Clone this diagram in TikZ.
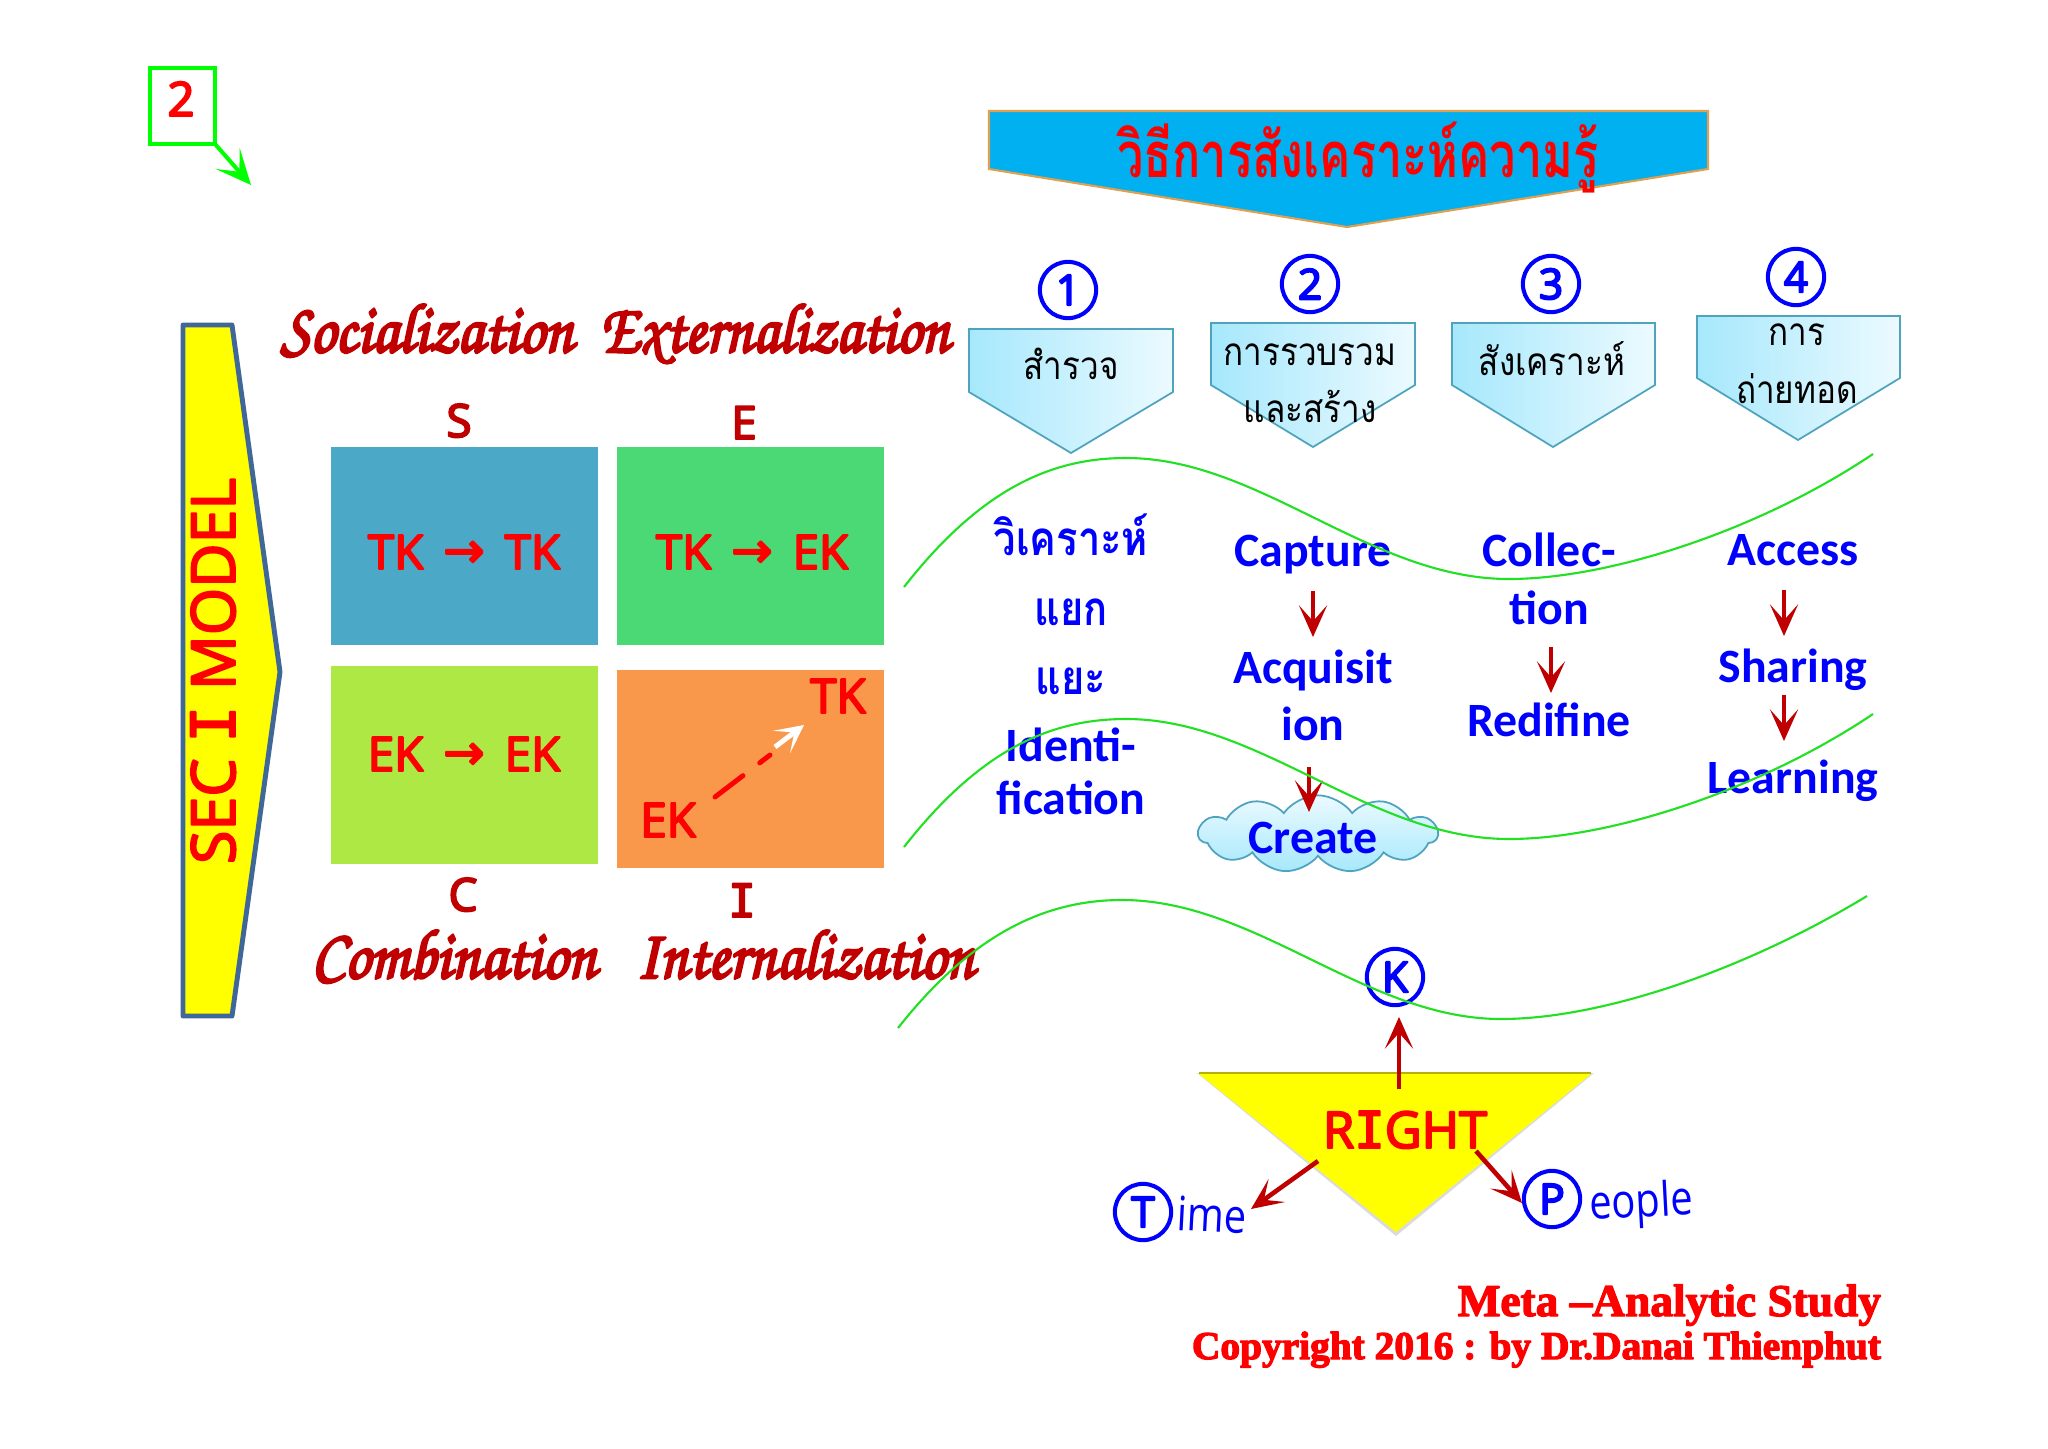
\documentclass[tikz,border=0pt]{standalone}
\usepackage[T1,TU]{fontenc}
\usepackage{fontspec}
\usetikzlibrary{arrows.meta,shapes.symbols}
\setmainfont{Carlito}
\newfontfamily\thaifont[Script=Thai]{Loma}
\newfontfamily\thincomic{Open Sans}
\newfontfamily\arrfont{DejaVu Sans}
\newfontfamily\monoI{DejaVu Sans Mono}
\newfontfamily\serifbold{Liberation Serif}
\newcommand{\comicfont}{\thincomic\special{pdf:code 1 J 1 j 2 Tr 0.55 w}}
\newcommand{\cooperfont}{\serifbold\bfseries\special{pdf:code 1 j 2 Tr 0.35 w}}
\newcommand{\brushfont}{\usefont{T1}{pzc}{mb}{it}\special{pdf:code 1 j 2 Tr 0.75 w}}
\newcommand{\tkarrow}{\hspace{5.7pt}\raisebox{0.5pt}{\arrfont\fontsize{14}{15}\selectfont →}\hspace{5.7pt}}
\newcommand{\capI}{{\monoI I}}
\newcommand{\brushtext}[2][0.9]{\scalebox{#1}[1]{#2}}
\definecolor{dred}{HTML}{C00000}
\definecolor{yel}{RGB}{255,255,0}
\definecolor{bluefill}{HTML}{00B0F0}
\definecolor{pentl}{HTML}{A6E8FC}
\definecolor{pentr}{HTML}{ECFAFF}
\definecolor{pentline}{HTML}{4FA3BD}
\definecolor{titleline}{HTML}{E0A050}
\definecolor{wavegreen}{HTML}{22E022}
\definecolor{secline}{HTML}{3F6797}
\definecolor{cellS}{HTML}{4BA8C6}
\definecolor{cellE}{HTML}{4AD975}
\definecolor{cellC}{HTML}{AEE845}
\definecolor{cellI}{HTML}{F9984A}
\tikzset{
  txt/.style={inner sep=0pt,outer sep=0pt,anchor=base},
  calib/.style={txt,text=blue,font=\fontsize{13.6}{14}\selectfont\bfseries},
  thaiblue/.style={txt,text=blue,font=\thaifont\fontsize{13.5}{15}\selectfont\bfseries},
  thaiblack/.style={txt,text=black,font=\thaifont\fontsize{11}{12}\selectfont},
  comic/.style={txt,text=red,font=\comicfont\fontsize{13.5}{15}\selectfont},
  letter/.style={txt,text=dred,font=\comicfont\fontsize{13}{14}\selectfont},
  brush/.style={txt,text=dred,font=\brushfont\fontsize{20}{21}\selectfont},
  cooper/.style={txt,text=red,font=\cooperfont\fontsize{11.2}{12}\selectfont},
  pent/.style={draw=pentline,line width=0.5pt,left color=pentl,right color=pentr},
  roundnode/.style={draw=blue,line width=1.15pt,circle,inner sep=0pt,minimum size=16pt,text=blue,font=\comicfont\fontsize{12}{13}\selectfont},
  wave/.style={draw=wavegreen,line width=0.6pt},
  darrow/.style={draw=dred,line width=1.3pt,-{Stealth[length=9pt,width=8pt,inset=4.5pt]}},
}
\begin{document}
\begin{tikzpicture}[x=0.01cm,y=-0.01cm]
\useasboundingbox (0,0) rectangle (2048,1448);
\fill[white] (0,0) rectangle (2048,1448);
% top-left marker
\node[draw=green,line width=1.15pt,inner sep=0pt,outer sep=0pt,minimum width=18.5pt,minimum height=21.6pt] (mark) at (182.5,106) {};
\node[comic] (marktxt) at (181,116) {2};
\coordinate (markend) at (251,185);
\draw[green,line width=1.15pt,-{Stealth[length=10pt,width=9pt,inset=5pt]}] (mark.south east) -- (markend);
% title arrow
\path[fill=bluefill,draw=titleline,line width=0.6pt] (989,111) -- (1708,111) -- (1708,169) -- (1347,227) -- (989,169) -- cycle;
\node[txt,text=red,font=\thaifont\fontsize{18}{20}\selectfont\bfseries] (title) at (1358,177) {\scalebox{0.74}[1]{วิธีการสังเคราะห์ความรู้}};
% SECI arrow
\path[fill=yel,draw=secline,line width=1.4pt,line join=round] (183,325) -- (232,325) -- (280,672) -- (232,1016) -- (183,1016) -- cycle;
\node[comic,rotate=90,font=\comicfont\fontsize{17.3}{18}\selectfont] (seci) at (235,671) {SEC \capI{} MODEL};
% cells
\fill[cellS] (331,447) rectangle (598,645);
\fill[cellE] (617,447) rectangle (884,645);
\fill[cellC] (331,666) rectangle (598,864);
\fill[cellI] (617,670) rectangle (884,868);
\node[comic] (tt) at (464,569) {TK\tkarrow TK};
\node[comic] (te) at (752,569) {TK\tkarrow EK};
\node[comic] (ee) at (464,771) {EK\tkarrow EK};
\node[comic] (ik2) at (838,713) {TK};
\node[comic] (ik1) at (668,837) {EK};
\coordinate (da) at (715,797);
\coordinate (db) at (770,755);
\coordinate (dc) at (775,747);
\coordinate (dd) at (804,725);
\draw[red,line width=1.4pt,dash pattern=on 10pt off 6pt,line cap=round] (da) -- (db);
\draw[white,line width=1.4pt,-{Stealth[length=8pt,width=8pt,inset=4.5pt]}] (dc) -- (dd);
% letters
\node[letter] (ls) at (459,437) {S};
\node[letter] (le) at (744,439) {E};
\node[letter] (lc) at (463,911) {C};
\node[letter] (li) at (742,917) {\capI};
% script captions
\node[brush] (soc) at (427,352) {\brushtext{Socialization}};
\node[brush] (ext) at (775,352) {\brushtext[0.88]{Externalization}};
\node[brush] (com) at (454,978) {\brushtext{Combination}};
\node[brush] (inl) at (805,978) {\brushtext[0.885]{Internalization}};
% pentagons
\path[pent] (969,329) -- (1173,329) -- (1173,392) -- (1071,453) -- (969,392) -- cycle;
\path[pent] (1211,323) -- (1415,323) -- (1415,385) -- (1313,447) -- (1211,385) -- cycle;
\path[pent] (1452,323) -- (1655,323) -- (1655,385) -- (1553,447) -- (1452,385) -- cycle;
\path[pent] (1697,316) -- (1900,316) -- (1900,378) -- (1798,440) -- (1697,378) -- cycle;
\node[roundnode] (n1) at (1068,290) {1};
\node[roundnode] (n2) at (1310,284) {2};
\node[roundnode] (n3) at (1551,284) {3};
\node[roundnode] (n4) at (1796,277) {4};
\node[thaiblack] (p1) at (1071,379) {\scalebox{0.86}[1]{สำรวจ}};
\node[thaiblack] (p2a) at (1310,365) {\scalebox{0.86}[1]{การรวบรวม}};
\node[thaiblack] (p2b) at (1310,422) {\scalebox{0.86}[1]{และสร้าง}};
\node[thaiblack] (p3) at (1552,375) {\scalebox{0.86}[1]{สังเคราะห์}};
\node[thaiblack] (p4a) at (1797,345) {\scalebox{0.86}[1]{การ}};
\node[thaiblack] (p4b) at (1797,403) {\scalebox{0.86}[1]{ถ่ายทอด}};
% column 1
\node[thaiblue] (a1) at (1071,555) {\scalebox{0.84}[1]{วิเคราะห์}};
\node[thaiblue] (a2) at (1071,625) {\scalebox{0.84}[1]{แยก}};
\node[thaiblue] (a3) at (1071,694) {\scalebox{0.84}[1]{แยะ}};
\node[calib] (a4) at (1071,761) {Identi-};
\node[calib] (a5) at (1071,814) {fication};
% cloud
\node[cloud,cloud puffs=11,cloud puff arc=110,aspect=3,draw=pentline,line width=0.5pt,top color=pentr,bottom color=pentl,inner sep=0pt,minimum width=68pt,minimum height=22pt] (cloud) at (1318,834) {};
% column 2
\node[calib] (b1) at (1313,566) {Capture};
\node[calib] (b2) at (1313,683) {Acquisit};
\node[calib] (b3) at (1313,740) {ion};
\node[calib] (b4) at (1313,853) {Create};
\coordinate (b1e) at (1313,637);
\coordinate (b1s) at (1313,591);
\coordinate (b3s) at (1309,767);
\coordinate (b3e) at (1309,812);
\draw[darrow] (b1s) -- (b1e);
\draw[darrow] (b3s) -- (b3e);
% column 3
\node[calib] (c1) at (1549,566) {Collec-};
\node[calib] (c2) at (1549,624) {tion};
\node[calib] (c3) at (1549,736) {Redifine};
\coordinate (c2s) at (1551,647);
\coordinate (c2e) at (1551,693);
\draw[darrow] (c2s) -- (c2e);
% column 4
\node[calib] (d1) at (1793,565) {Access};
\node[calib] (d2) at (1793,682) {Sharing};
\node[calib] (d3) at (1793,793) {Learning};
\coordinate (d1s) at (1784,590);
\coordinate (d1e) at (1784,636);
\coordinate (d2s) at (1784,695);
\coordinate (d2e) at (1784,741);
\draw[darrow] (d1s) -- (d1e);
\draw[darrow] (d2s) -- (d2e);
% triangle
\path[fill=black!14] (1197,1073) -- (1594,1073) -- (1396,1236) -- cycle;
\path[fill=yel] (1199,1074) -- (1591,1074) -- (1396,1232) -- cycle;
\draw[draw=yel!70!black,line width=0.6pt] (1199,1073) -- (1591,1073);
\node[comic,font=\comicfont\fontsize{14.4}{16}\selectfont] (right) at (1405,1148) {R\capI GHT};
\node[roundnode] (kk) at (1395,977) {K};
\node[roundnode] (tc) at (1143,1212) {T};
\node[roundnode] (pc) at (1552,1199) {P};
\node[txt,text=blue,font=\thincomic\fontsize{13.5}{14}\selectfont,rotate=-3] (ime) at (1211,1232) {\scalebox{0.84}[1]{ime}};
\node[txt,text=blue,font=\thincomic\fontsize{13.5}{14}\selectfont,rotate=3] (eople) at (1642,1217) {\scalebox{0.84}[1]{eople}};
\coordinate (r1) at (1399,1089);
\coordinate (r2) at (1399,1017);
\coordinate (r3) at (1318,1161);
\coordinate (r4) at (1251,1209);
\coordinate (r5) at (1476,1151);
\coordinate (r6) at (1522,1203);
\draw[darrow] (r1) -- (r2);
\draw[darrow] (r3) -- (r4);
\draw[darrow] (r5) -- (r6);
% credits
\node[cooper,anchor=base east,font=\cooperfont\fontsize{12.9}{14}\selectfont] (meta) at (1881,1316) {Meta –Analytic Study};
\node[cooper,anchor=base east] (copy) at (1881,1359) {Copyright 2016 : by Dr.Danai Thienphut};
% waves on top
\draw[wave] (904,587) .. controls (980,490) and (1050,458) .. (1126,458) .. controls (1260,458) and (1370,579) .. (1509,579) .. controls (1610,579) and (1760,530) .. (1873,454);
\draw[wave] (904,847) .. controls (980,750) and (1050,719) .. (1126,719) .. controls (1260,719) and (1370,839) .. (1509,839) .. controls (1610,839) and (1760,790) .. (1873,714);
\draw[wave] (898,1028) .. controls (973,933) and (1046,900) .. (1122,900) .. controls (1256,900) and (1366,1019) .. (1501,1019) .. controls (1602,1019) and (1745,970) .. (1867,896);
\end{tikzpicture}
\end{document}
